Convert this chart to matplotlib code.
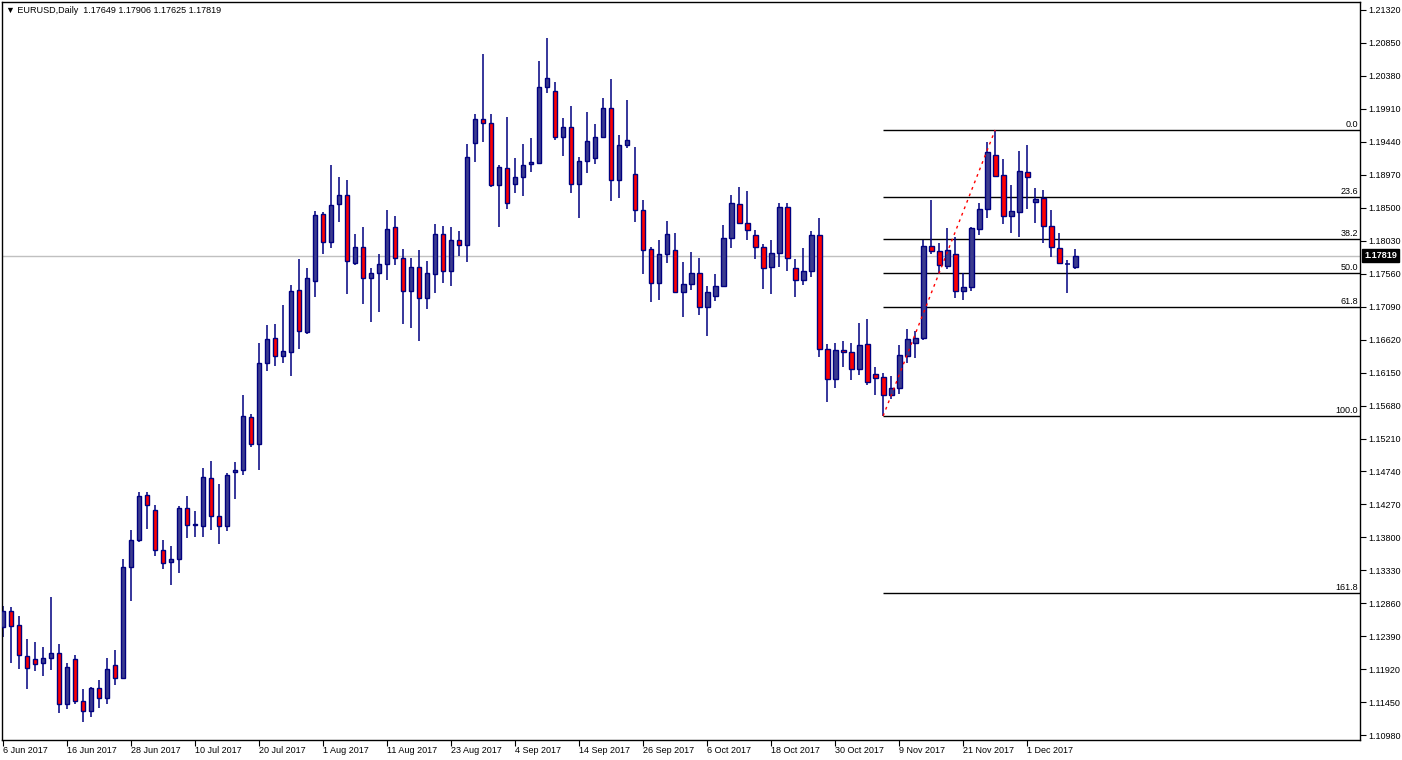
import matplotlib
matplotlib.use('Agg')
import matplotlib.pyplot as plt
import matplotlib.transforms as mtransforms

plt.rcParams['font.family'] = ['Liberation Sans', 'DejaVu Sans']

TITLE = 'EURUSD,Daily'
LAST_QUOTE = [1.17649, 1.17906, 1.17625, 1.17819]

opens = [1.1252, 1.1275, 1.1255, 1.1211, 1.1207, 1.1201, 1.1208, 1.1215, 1.1142, 1.1207,
         1.1147, 1.1132, 1.1165, 1.1151, 1.1198, 1.1180, 1.1338, 1.1376, 1.1440, 1.1419,
         1.1362, 1.1345, 1.1349, 1.1422, 1.1398, 1.1396, 1.1465, 1.1410, 1.1396, 1.1473,
         1.1476, 1.1552, 1.1513, 1.1629, 1.1664, 1.1639, 1.1644, 1.1733, 1.1673, 1.1746,
         1.1841, 1.1801, 1.1855, 1.1868, 1.1771, 1.1794, 1.1750, 1.1757, 1.1770, 1.1823,
         1.1778, 1.1731, 1.1766, 1.1721, 1.1756, 1.1813, 1.1760, 1.1804, 1.1797, 1.1942,
         1.1977, 1.1971, 1.1882, 1.1907, 1.1884, 1.1894, 1.1912, 1.1914, 1.2022, 1.2017,
         1.1951, 1.1965, 1.1884, 1.1917, 1.1921, 1.1951, 1.1992, 1.1890, 1.1940, 1.1898,
         1.1847, 1.1791, 1.1743, 1.1784, 1.1790, 1.1730, 1.1741, 1.1757, 1.1709, 1.1724,
         1.1738, 1.1807, 1.1855, 1.1828, 1.1811, 1.1794, 1.1766, 1.1786, 1.1851, 1.1764,
         1.1747, 1.1760, 1.1811, 1.1649, 1.1606, 1.1647, 1.1644, 1.1620, 1.1656, 1.1613,
         1.1609, 1.1583, 1.1593, 1.1639, 1.1657, 1.1664, 1.1796, 1.1788, 1.1767, 1.1784,
         1.1731, 1.1737, 1.1820, 1.1848, 1.1925, 1.1897, 1.1838, 1.1844, 1.1901, 1.1858,
         1.1864, 1.1824, 1.1793, 1.1770, 1.17649]
highs = [1.1282, 1.1281, 1.1268, 1.1235, 1.1231, 1.1224, 1.1295, 1.1228, 1.1201, 1.1212,
         1.1164, 1.1167, 1.1177, 1.1208, 1.1219, 1.1349, 1.1391, 1.1445, 1.1445, 1.1426,
         1.1376, 1.1368, 1.1425, 1.1439, 1.1418, 1.1479, 1.1489, 1.1456, 1.1472, 1.1487,
         1.1583, 1.1556, 1.1657, 1.1683, 1.1684, 1.1711, 1.1740, 1.1777, 1.1764, 1.1845,
         1.1844, 1.1911, 1.1894, 1.1890, 1.1813, 1.1823, 1.1764, 1.1784, 1.1847, 1.1838,
         1.1791, 1.1778, 1.1790, 1.1774, 1.1827, 1.1824, 1.1823, 1.1817, 1.1941, 1.1984,
         1.2069, 1.1984, 1.1911, 1.1979, 1.1921, 1.1941, 1.1950, 1.2059, 1.2092, 1.2029,
         1.1978, 1.1995, 1.1922, 1.1987, 1.1970, 1.2007, 1.2034, 1.1954, 1.2004, 1.1937,
         1.1861, 1.1794, 1.1804, 1.1831, 1.1814, 1.1773, 1.1787, 1.1778, 1.1738, 1.1756,
         1.1825, 1.1868, 1.1880, 1.1874, 1.1818, 1.1798, 1.1804, 1.1857, 1.1857, 1.1777,
         1.1793, 1.1817, 1.1835, 1.1656, 1.1657, 1.1660, 1.1657, 1.1686, 1.1691, 1.1623,
         1.1614, 1.1610, 1.1654, 1.1677, 1.1674, 1.1804, 1.1861, 1.1800, 1.1821, 1.1808,
         1.1757, 1.1823, 1.1857, 1.1944, 1.19609, 1.1920, 1.1882, 1.1931, 1.1940, 1.1878,
         1.1875, 1.1847, 1.1814, 1.1776, 1.17906]
lows = [1.1238, 1.1201, 1.1192, 1.1164, 1.1189, 1.1182, 1.1191, 1.1130, 1.1135, 1.1142,
        1.1117, 1.1124, 1.1137, 1.1142, 1.1169, 1.1178, 1.1289, 1.1373, 1.1392, 1.1353,
        1.1335, 1.1312, 1.1329, 1.1379, 1.1381, 1.1381, 1.1391, 1.1371, 1.1389, 1.1435,
        1.1469, 1.1509, 1.1476, 1.1617, 1.1624, 1.1629, 1.1610, 1.1649, 1.1670, 1.1723,
        1.1784, 1.1793, 1.1830, 1.1727, 1.1768, 1.1713, 1.1687, 1.1701, 1.1747, 1.1768,
        1.1684, 1.1679, 1.1660, 1.1706, 1.1728, 1.1743, 1.1738, 1.1781, 1.1773, 1.1915,
        1.1944, 1.1880, 1.1823, 1.1848, 1.1871, 1.1867, 1.1901, 1.1912, 1.2014, 1.1947,
        1.1924, 1.1871, 1.1835, 1.1900, 1.1912, 1.1950, 1.1860, 1.1864, 1.1935, 1.1830,
        1.1756, 1.1716, 1.1719, 1.1771, 1.1730, 1.1694, 1.1733, 1.1697, 1.1667, 1.1717,
        1.1737, 1.1793, 1.1827, 1.1804, 1.1777, 1.1734, 1.1727, 1.1766, 1.1760, 1.1723,
        1.1740, 1.1751, 1.1637, 1.1573, 1.1593, 1.1623, 1.1604, 1.1612, 1.1597, 1.1583,
        1.15531, 1.1577, 1.1584, 1.1629, 1.1636, 1.1662, 1.1784, 1.1756, 1.1763, 1.1721,
        1.1719, 1.1731, 1.1811, 1.1835, 1.1894, 1.1827, 1.1814, 1.1808, 1.1848, 1.1828,
        1.1800, 1.1780, 1.1770, 1.1728, 1.17625]
closes = [1.1275, 1.1254, 1.1212, 1.1194, 1.1199, 1.1208, 1.1215, 1.1142, 1.1195, 1.1147,
          1.1132, 1.1165, 1.1151, 1.1192, 1.1180, 1.1338, 1.1376, 1.1439, 1.1426, 1.1362,
          1.1343, 1.1349, 1.1422, 1.1398, 1.1399, 1.1466, 1.1410, 1.1396, 1.1469, 1.1476,
          1.1553, 1.1513, 1.1629, 1.1663, 1.1639, 1.1646, 1.1731, 1.1674, 1.1750, 1.1840,
          1.1801, 1.1854, 1.1868, 1.1774, 1.1794, 1.1750, 1.1757, 1.1770, 1.1820, 1.1778,
          1.1731, 1.1766, 1.1721, 1.1757, 1.1813, 1.1760, 1.1804, 1.1797, 1.1922, 1.1977,
          1.1971, 1.1882, 1.1908, 1.1857, 1.1894, 1.1911, 1.1915, 1.2022, 1.2035, 1.1951,
          1.1965, 1.1884, 1.1917, 1.1945, 1.1951, 1.1992, 1.1890, 1.1940, 1.1947, 1.1847,
          1.1790, 1.1743, 1.1784, 1.1813, 1.1730, 1.1741, 1.1757, 1.1709, 1.1730, 1.1738,
          1.1807, 1.1857, 1.1828, 1.1818, 1.1794, 1.1764, 1.1786, 1.1851, 1.1778, 1.1747,
          1.1760, 1.1811, 1.1649, 1.1606, 1.1647, 1.1644, 1.1620, 1.1654, 1.1602, 1.1607,
          1.1583, 1.1593, 1.1640, 1.1663, 1.1664, 1.1796, 1.1788, 1.1768, 1.1790, 1.1731,
          1.1737, 1.1821, 1.1848, 1.1930, 1.1895, 1.1838, 1.1845, 1.1902, 1.1894, 1.1862,
          1.1824, 1.1794, 1.1771, 1.1770, 1.17819]

date_labels = ['6 Jun 2017', '16 Jun 2017', '28 Jun 2017', '10 Jul 2017', '20 Jul 2017',
               '1 Aug 2017', '11 Aug 2017', '23 Aug 2017', '4 Sep 2017', '14 Sep 2017',
               '26 Sep 2017', '6 Oct 2017', '18 Oct 2017', '30 Oct 2017', '9 Nov 2017',
               '21 Nov 2017', '1 Dec 2017']
BARS_PER_LABEL = 8

price_ticks = [1.10980, 1.11450, 1.11920, 1.12390, 1.12860, 1.13330, 1.13800, 1.14270,
               1.14740, 1.15210, 1.15680, 1.16150, 1.16620, 1.17090, 1.17560, 1.18030,
               1.18500, 1.18970, 1.19440, 1.19910, 1.20380, 1.20850, 1.21320]

fib_levels = [0.0, 23.6, 38.2, 50.0, 61.8, 100.0, 161.8]

BULL_COLOR = '#3c3c8e'
BEAR_COLOR = '#ff0000'
EDGE_COLOR = '#000080'
FONT_SIZE = 6.5


def plotCandles(ax):
    for i, (o, h, l, c) in enumerate(zip(opens, highs, lows, closes)):
        ax.vlines(i, l, h, color=EDGE_COLOR, linewidth=1.1, zorder=2)
        if abs(c - o) < 0.00005:
            ax.hlines(o, i - 0.3, i + 0.3, color=EDGE_COLOR, linewidth=1.1, zorder=3)
            continue
        fill = BULL_COLOR if c > o else BEAR_COLOR
        ax.bar(i, abs(c - o), bottom=min(o, c), width=0.6, color=fill,
               edgecolor=EDGE_COLOR, linewidth=1.0, zorder=3)


def plotFibo(ax):
    # swing low after the top of the chart, then the swing high after it
    top = highs.index(max(highs))
    start = top + lows[top:].index(min(lows[top:]))
    end = start + highs[start:].index(max(highs[start:]))
    lo, hi = lows[start], highs[end]
    x_right = ax.get_xlim()[1]
    for level in fib_levels:
        price = hi - (hi - lo) * level / 100.0
        ax.hlines(price, start, x_right, color='black', linewidth=1.0, zorder=1)
        ax.text(x_right - 0.25, price + 0.00015, f'{level:.1f}', ha='right', va='bottom',
                fontsize=FONT_SIZE, color='black')
    ax.plot([start, end], [lo, hi], color='red', linestyle=(0, (2, 3)),
            linewidth=1.0, zorder=4)


def main():
    fig = plt.figure(figsize=(14.02, 7.6), dpi=100)
    ax = fig.add_axes([2 / 1402, 20 / 760, 1358 / 1402, 738 / 760])
    ax.set_xlim(-0.125, 169.6)
    ax.set_ylim(1.10911, 1.21434)

    # current price line
    ax.axhline(LAST_QUOTE[3], color='#c0c0c0', linewidth=1.0, zorder=0)

    plotFibo(ax)
    plotCandles(ax)

    for spine in ax.spines.values():
        spine.set_color('black')
        spine.set_linewidth(1.0)

    ax.yaxis.tick_right()
    ax.set_yticks(price_ticks)
    ax.set_yticklabels([f'{p:.5f}' for p in price_ticks])
    ax.tick_params(axis='y', direction='out', length=4, width=0.8, pad=2,
                   labelsize=FONT_SIZE, colors='black')

    ax.set_xticks(range(0, BARS_PER_LABEL * len(date_labels), BARS_PER_LABEL))
    ax.set_xticklabels(date_labels, ha='left')
    ax.tick_params(axis='x', direction='out', length=4, width=0.8, pad=0,
                   labelsize=FONT_SIZE, colors='black')

    trans = mtransforms.blended_transform_factory(ax.transAxes, ax.transData)
    ax.text(1.003, LAST_QUOTE[3], f'{LAST_QUOTE[3]:.5f}', transform=trans,
            ha='left', va='center', fontsize=FONT_SIZE, color='white', fontweight='bold',
            bbox=dict(boxstyle='square,pad=0.2', facecolor='black', edgecolor='black'))

    header = '\u25bc ' + TITLE + '  ' + ' '.join(f'{v:.5f}' for v in LAST_QUOTE)
    ax.text(0.003, 0.995, header, transform=ax.transAxes, ha='left', va='top',
            fontsize=FONT_SIZE, color='black')

    fig.savefig('out.png', dpi=100, facecolor='white')


if __name__ == '__main__':
    main()
